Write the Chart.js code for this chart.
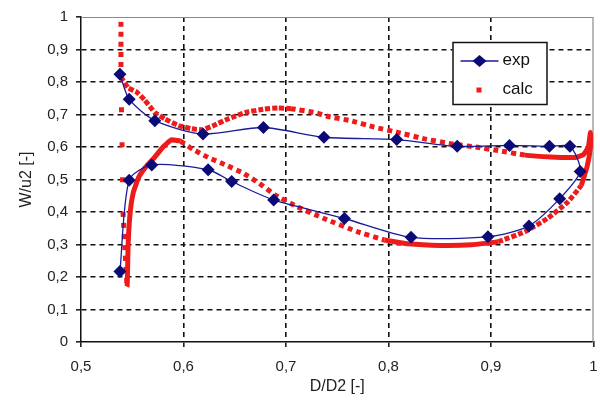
<!DOCTYPE html>
<html>
<head>
<meta charset="utf-8">
<script src="https://cdn.jsdelivr.net/npm/chart.js@4.4.1/dist/chart.umd.min.js"></script>
<style>
  html, body { margin: 0; padding: 0; background: #fff; }
  #wrap { position: relative; width: 600px; height: 412px; }
</style>
</head>
<body>
<div id="wrap"><canvas id="chart" width="600" height="412"></canvas></div>
<script>
// pontos medidos (exp)
const expX = [0.538, 0.547, 0.569, 0.624, 0.647, 0.688, 0.757, 0.822, 0.897, 0.937, 0.967, 0.987,
              0.977, 0.957, 0.918, 0.867, 0.808, 0.737, 0.678, 0.619, 0.572, 0.547, 0.538];
const expY = [0.217, 0.498, 0.545, 0.530, 0.494, 0.437, 0.380, 0.322, 0.324, 0.357, 0.441, 0.525,
              0.602, 0.602, 0.605, 0.602, 0.623, 0.630, 0.660, 0.640, 0.681, 0.747, 0.824];

// curva calculada (calc)
const calcX = [0.539, 0.539, 0.540, 0.541, 0.543, 0.545, 0.546, 0.548, 0.551, 0.556, 0.563, 0.572,
               0.580, 0.588, 0.597, 0.609, 0.624, 0.641, 0.658, 0.674, 0.689, 0.711, 0.737, 0.770,
               0.796, 0.819, 0.851, 0.881, 0.907, 0.933, 0.955, 0.975, 0.988, 0.994, 0.997, 0.997,
               0.995, 0.990, 0.982, 0.958, 0.933, 0.907, 0.887, 0.861, 0.835, 0.809, 0.786, 0.763,
               0.741, 0.728, 0.705, 0.692, 0.679, 0.660, 0.643, 0.630, 0.619, 0.608, 0.595, 0.582,
               0.572, 0.562, 0.554, 0.546, 0.539];
const calcY = [0.985, 0.830, 0.620, 0.400, 0.280, 0.170, 0.300, 0.400, 0.460, 0.505, 0.538, 0.569,
               0.600, 0.622, 0.618, 0.593, 0.568, 0.545, 0.520, 0.488, 0.453, 0.416, 0.380, 0.339,
               0.314, 0.302, 0.297, 0.299, 0.309, 0.339, 0.380, 0.431, 0.482, 0.543, 0.600, 0.645,
               0.600, 0.576, 0.568, 0.569, 0.575, 0.589, 0.599, 0.610, 0.625, 0.645, 0.661, 0.681,
               0.694, 0.706, 0.718, 0.720, 0.717, 0.706, 0.686, 0.667, 0.653, 0.656, 0.666, 0.686,
               0.706, 0.745, 0.770, 0.782, 0.815];

const xTicks = [0.5, 0.6, 0.7, 0.8, 0.9, 1];
const yTicks = [0, 0.1, 0.2, 0.3, 0.4, 0.5, 0.6, 0.7, 0.8, 0.9, 1];

const seriesNames = ['exp', 'calc'];
const expColor = '#1a1a9a';
const expPointColor = '#0b0b78';
const calcColor = '#ee1b1b';

const FONT = "'Liberation Sans', Arial, sans-serif";

// formata com vírgula decimal
const fmt = v => String(Math.round(v * 10) / 10).replace('.', ',');

// tracejado da curva calc, por trecho
function calcDash(ctx) {
    const i = ctx.p0DataIndex;
    if (i < 1) return [5, 5];
    if (i < 3) return [5, 30];
    if (i < 5) return [5, 6];
    if (i < 14) return [];
    if (i < 24) return [5, 4];
    if (i < 28) return [];
    if (i < 32) return [5, 2];
    if (i < 40) return [];
    if (i < 50) return [5, 4];
    return [5, 2];
}

// moldura superior e direita
const framePlugin = {
    id: 'frame',
    beforeDatasetsDraw(chart) {
        const { ctx, chartArea: a } = chart;
        ctx.save();
        ctx.strokeStyle = '#8a8a8a';
        ctx.lineWidth = 1.2;
        ctx.beginPath();
        ctx.moveTo(a.left, a.top + 0.5);
        ctx.lineTo(a.right - 0.5, a.top + 0.5);
        ctx.lineTo(a.right - 0.5, a.bottom);
        ctx.stroke();
        ctx.restore();
    }
};

// legenda dentro da área do gráfico
const legendPlugin = {
    id: 'legendBox',
    afterDraw(chart) {
        const { ctx, chartArea: a } = chart;
        const bx = a.right - 141, by = a.top + 25, bw = 95, bh = 63;
        ctx.save();
        ctx.fillStyle = '#fff';
        ctx.fillRect(bx, by, bw, bh);
        ctx.strokeStyle = '#111';
        ctx.lineWidth = 1.5;
        ctx.strokeRect(bx + 0.5, by + 0.5, bw - 1, bh - 1);

        // exp
        const y1 = by + 19;
        ctx.strokeStyle = expColor;
        ctx.lineWidth = 1.5;
        ctx.beginPath();
        ctx.moveTo(bx + 8, y1);
        ctx.lineTo(bx + 46, y1);
        ctx.stroke();
        ctx.fillStyle = expPointColor;
        ctx.beginPath();
        ctx.moveTo(bx + 27 - 7, y1);
        ctx.lineTo(bx + 27, y1 - 6);
        ctx.lineTo(bx + 27 + 7, y1);
        ctx.lineTo(bx + 27, y1 + 6);
        ctx.closePath();
        ctx.fill();

        // calc
        const y2 = by + 48;
        ctx.fillStyle = calcColor;
        ctx.fillRect(bx + 24, y2 - 2.5, 5, 5);

        ctx.fillStyle = '#111';
        ctx.font = '17px ' + FONT;
        ctx.textBaseline = 'middle';
        ctx.fillText(seriesNames[0], bx + 50, y1 - 1);
        ctx.fillText(seriesNames[1], bx + 50, y2 - 1);
        ctx.restore();
    }
};

const ctx = document.getElementById('chart').getContext('2d');

const chart = new Chart(ctx, {
    type: 'scatter',
    data: {
        datasets: [
            {
                label: seriesNames[0],
                data: expX.map((x, i) => ({ x: x, y: expY[i] })),
                showLine: true,
                borderColor: expColor,
                borderWidth: 1.3,
                tension: 0.25,
                pointStyle: 'rectRot',
                pointRadius: 6.5,
                pointBackgroundColor: expPointColor,
                pointBorderWidth: 0,
                order: 1,
            },
            {
                label: seriesNames[1],
                data: calcX.map((x, i) => ({ x: x, y: calcY[i] })),
                showLine: true,
                borderColor: calcColor,
                borderWidth: 5,
                borderCapStyle: 'butt',
                borderJoinStyle: 'miter',
                tension: 0.1,
                pointRadius: 0,
                segment: { borderDash: calcDash },
                order: 2,
            },
        ],
    },
    options: {
        responsive: false,
        animation: false,
        events: [],
        layout: { padding: { top: 13, right: 6, left: 0, bottom: 0 } },
        plugins: {
            legend: { display: false },
            tooltip: { enabled: false },
        },
        scales: {
            x: {
                type: 'linear',
                min: 0.5,
                max: 1,
                afterBuildTicks: axis => { axis.ticks = xTicks.map(v => ({ value: v })); },
                afterFit: axis => { axis.height = 70; axis.paddingRight = 0; axis.paddingLeft = 0; },
                ticks: {
                    color: '#222',
                    font: { family: FONT, size: 15 },
                    padding: 11,
                    maxRotation: 0,
                    callback: v => fmt(v),
                },
                grid: {
                    color: c => (c.tick && (c.tick.value === 0.5 || c.tick.value === 1)) ? 'rgba(0,0,0,0)' : '#111',
                    lineWidth: 1.6,
                    tickColor: '#222',
                    tickLength: 5,
                },
                border: { display: true, color: '#111', width: 1.5, dash: [5, 4] },
                title: {
                    display: true,
                    text: 'D/D2 [-]',
                    color: '#222',
                    font: { family: FONT, size: 16 },
                    padding: { top: 0, bottom: 16 },
                },
            },
            y: {
                type: 'linear',
                min: 0,
                max: 1,
                afterBuildTicks: axis => { axis.ticks = yTicks.map(v => ({ value: v })); },
                afterFit: axis => { axis.width = 81; },
                ticks: {
                    color: '#222',
                    font: { family: FONT, size: 15 },
                    padding: 8,
                    callback: v => fmt(v),
                },
                grid: {
                    color: c => (c.tick && (c.tick.value === 0 || c.tick.value === 1)) ? 'rgba(0,0,0,0)' : '#111',
                    lineWidth: 1.6,
                    tickColor: '#222',
                    tickLength: 5,
                },
                border: { display: true, color: '#111', width: 1.5, dash: [5, 4] },
                title: {
                    display: true,
                    text: 'W/u2 [-]',
                    color: '#222',
                    font: { family: FONT, size: 16 },
                    padding: { top: 17, bottom: 0 },
                },
            },
        },
    },
    plugins: [framePlugin, legendPlugin],
});
</script>
</body>
</html>
